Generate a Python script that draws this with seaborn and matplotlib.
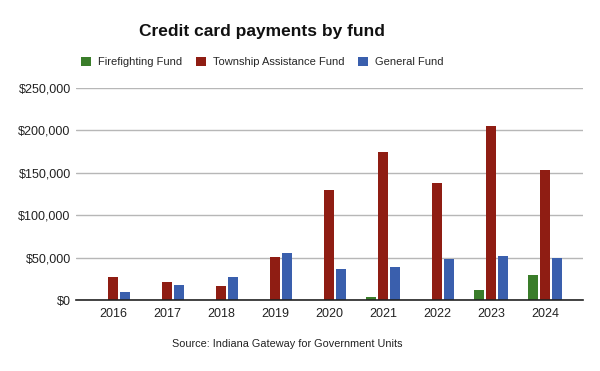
import matplotlib
matplotlib.use("Agg")
import matplotlib.pyplot as plt
import seaborn as sns
import pandas as pd
from matplotlib.ticker import FuncFormatter
from matplotlib.patches import Patch

years = ["2016", "2017", "2018", "2019", "2020", "2021", "2022", "2023", "2024"]
firefighting = [0, 0, 0, 0, 0, 3500, 0, 11800, 29500]
township = [26800, 21200, 16100, 50300, 129700, 174500, 137600, 204800, 153300]
general = [9400, 17300, 27100, 55400, 36500, 38900, 48300, 51900, 49200]
series_names = ["Firefighting Fund", "Township Assistance Fund", "General Fund"]
colors = ["#3a7d2a", "#8f1d13", "#3a5fad"]

rows = []
for name, vals in zip(series_names, [firefighting, township, general]):
    for y, v in zip(years, vals):
        rows.append({"Year": y, "Fund": name, "Amount": v})
df = pd.DataFrame(rows)

sns.set_theme(style="white")
plt.rcParams["font.family"] = ["Liberation Sans", "DejaVu Sans"]

fig = plt.figure(figsize=(6, 3.71), dpi=100)
ax = fig.add_axes([0.127, 0.191, 0.845, 0.572])

sns.barplot(data=df, x="Year", y="Amount", hue="Fund", hue_order=series_names,
            palette=colors, width=0.667, gap=0.17, ax=ax, legend=False,
            saturation=1, edgecolor="none")

ax.set_xlim(-0.69, 8.7)
ax.set_ylim(0, 250000)
ax.set_yticks([0, 50000, 100000, 150000, 200000, 250000])
ax.yaxis.set_major_formatter(FuncFormatter(lambda v, p: f"${int(v):,}"))
ax.grid(axis="y", color="#b7b7b7", linewidth=1)
ax.set_axisbelow(True)
for s in ["top", "right", "left"]:
    ax.spines[s].set_visible(False)
ax.spines["bottom"].set_color("#222222")
ax.spines["bottom"].set_linewidth(1.2)
ax.set_xlabel("")
ax.set_ylabel("")
ax.tick_params(axis="both", length=0, labelsize=9, colors="#222222")
ax.tick_params(axis="x", pad=6)
ax.tick_params(axis="y", pad=4)

fig.text(0.437, 0.915, "Credit card payments by fund", ha="center", va="center",
         fontsize=12.5, fontweight="bold", color="#111111")

handles = [Patch(facecolor=c, edgecolor="none") for c in colors]
fig.legend(handles, series_names, loc="center", bbox_to_anchor=(0.437, 0.833),
           ncol=3, frameon=False, fontsize=8, handlelength=0.9, handleheight=0.9,
           columnspacing=1.25, handletextpad=0.6, borderpad=0)

fig.text(0.478, 0.072, "Source: Indiana Gateway for Government Units", ha="center",
         va="center", fontsize=7.8, color="#222222")

fig.savefig("out.png", dpi=100, facecolor="white")
